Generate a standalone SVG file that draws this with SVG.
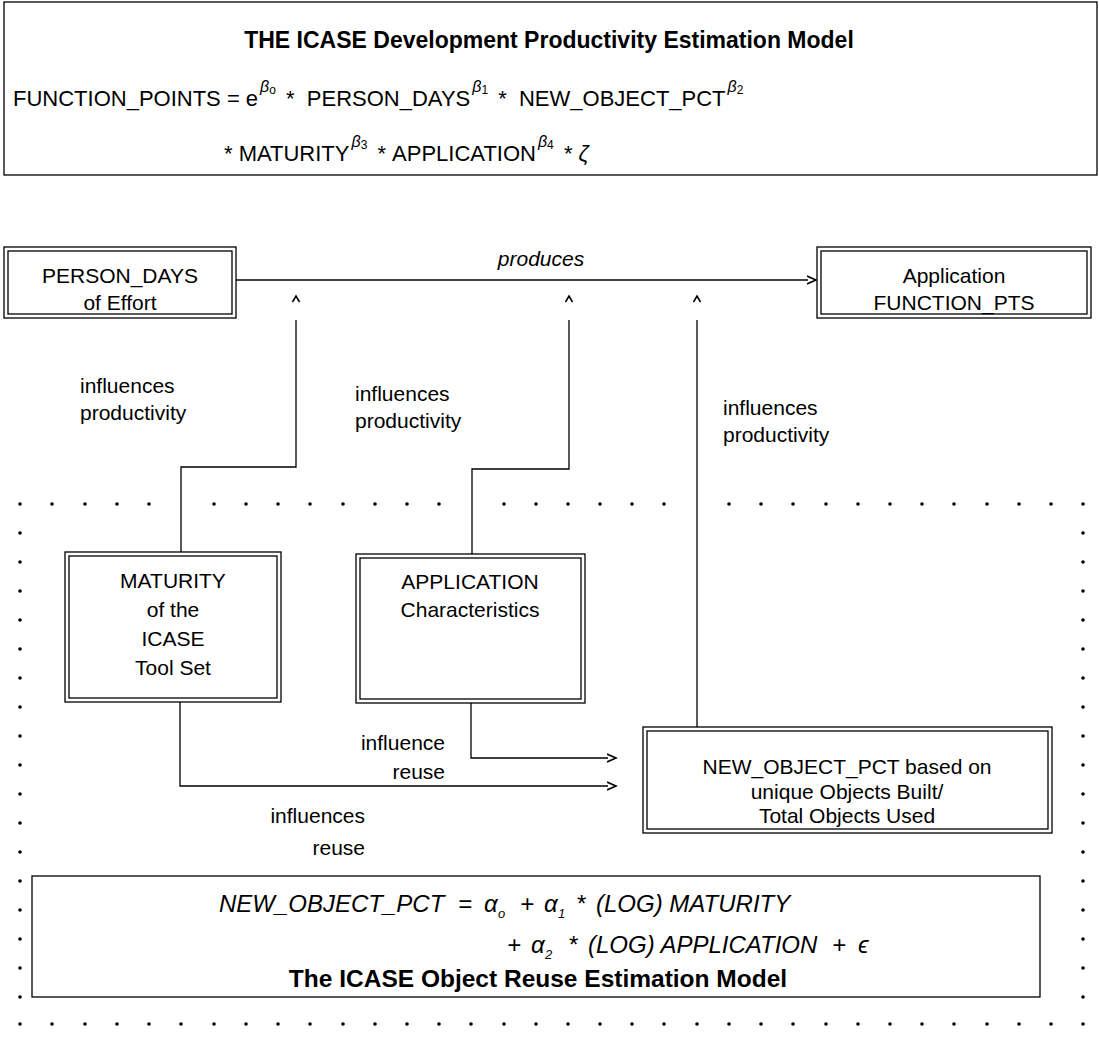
<svg xmlns="http://www.w3.org/2000/svg" width="1099" height="1047" viewBox="0 0 1099 1047">
<style>
text{font-family:"Liberation Sans",Arial,sans-serif;fill:#000;font-size:21px}
.b{font-weight:bold;font-size:23px}
.bb{font-weight:bold;font-size:24.5px}
.i{font-style:italic}
.c{text-anchor:middle}
.e{text-anchor:end}
.f{font-size:22px;white-space:pre}
.g{font-size:24px;font-style:italic}
.beta{font-size:16px;font-style:italic}
.sub{font-size:12px;font-style:normal}
.gs{font-size:13px;font-style:italic}
.box{fill:#fff;stroke:#000;stroke-width:1.3}
.ln{fill:none;stroke:#000;stroke-width:1.3}
.dot{fill:#000}
</style>
<defs>
<marker id="chev" markerUnits="userSpaceOnUse" markerWidth="14" markerHeight="14" refX="1" refY="5" orient="auto" viewBox="0 0 14 10">
<path d="M0,1 L9,5 L0,9" fill="none" stroke="#000" stroke-width="1.6"/>
</marker>
<marker id="caret" markerUnits="userSpaceOnUse" markerWidth="40" markerHeight="14" refX="-18" refY="5" orient="auto" viewBox="-20 0 40 10">
<path d="M0,1.5 L6,5 L0,8.5" fill="none" stroke="#000" stroke-width="1.6"/>
</marker>
<circle id="d" r="1.8" class="dot"/>
</defs>

<g id="header">
<rect class="box" x="4" y="2" width="1093" height="173"/>
<text class="b c" x="549" y="48">THE ICASE Development Productivity Estimation Model</text>
<text class="f" x="13" y="106">FUNCTION_POINTS = e<tspan class="beta" dx="2" dy="-14">β</tspan><tspan class="sub" dy="2">o</tspan><tspan dy="12" dx="4"> *  PERSON_DAYS</tspan><tspan class="beta" dx="2" dy="-14">β</tspan><tspan class="sub" dy="2">1</tspan><tspan dy="12" dx="4"> *  NEW_OBJECT_PCT</tspan><tspan class="beta" dx="2" dy="-14">β</tspan><tspan class="sub" dy="2">2</tspan></text>
<text class="f" x="224" y="161">* MATURITY<tspan class="beta" dx="2" dy="-14">β</tspan><tspan class="sub" dy="2">3</tspan><tspan dy="12" dx="4"> * APPLICATION</tspan><tspan class="beta" dx="2" dy="-14">β</tspan><tspan class="sub" dy="2">4</tspan><tspan dy="12" dx="4"> * </tspan><tspan class="i">ζ</tspan></text>
</g>

<g id="reuse-boundary">
<g id="dots-top">
<use href="#d" x="20" y="504"/><use href="#d" x="52" y="504"/><use href="#d" x="85" y="504"/><use href="#d" x="117" y="504"/><use href="#d" x="149" y="504"/>
<use href="#d" x="214" y="504"/><use href="#d" x="246" y="504"/><use href="#d" x="278" y="504"/><use href="#d" x="310" y="504"/><use href="#d" x="343" y="504"/><use href="#d" x="375" y="504"/><use href="#d" x="407" y="504"/><use href="#d" x="439" y="504"/>
<use href="#d" x="504" y="504"/><use href="#d" x="536" y="504"/><use href="#d" x="568" y="504"/><use href="#d" x="600" y="504"/><use href="#d" x="632" y="504"/><use href="#d" x="664" y="504"/>
<use href="#d" x="729" y="504"/><use href="#d" x="761" y="504"/><use href="#d" x="793" y="504"/><use href="#d" x="826" y="504"/><use href="#d" x="858" y="504"/><use href="#d" x="890" y="504"/><use href="#d" x="922" y="504"/><use href="#d" x="954" y="504"/><use href="#d" x="987" y="504"/><use href="#d" x="1019" y="504"/><use href="#d" x="1051" y="504"/><use href="#d" x="1083" y="504"/>
</g>
<g id="dots-bottom">
<use href="#d" x="20" y="1024"/><use href="#d" x="52" y="1024"/><use href="#d" x="85" y="1024"/><use href="#d" x="117" y="1024"/><use href="#d" x="149" y="1024"/><use href="#d" x="181" y="1024"/><use href="#d" x="214" y="1024"/><use href="#d" x="246" y="1024"/><use href="#d" x="278" y="1024"/><use href="#d" x="310" y="1024"/><use href="#d" x="343" y="1024"/><use href="#d" x="375" y="1024"/><use href="#d" x="407" y="1024"/><use href="#d" x="439" y="1024"/><use href="#d" x="471" y="1024"/><use href="#d" x="504" y="1024"/><use href="#d" x="536" y="1024"/><use href="#d" x="568" y="1024"/><use href="#d" x="600" y="1024"/><use href="#d" x="632" y="1024"/><use href="#d" x="664" y="1024"/><use href="#d" x="697" y="1024"/><use href="#d" x="729" y="1024"/><use href="#d" x="761" y="1024"/><use href="#d" x="793" y="1024"/><use href="#d" x="826" y="1024"/><use href="#d" x="858" y="1024"/><use href="#d" x="890" y="1024"/><use href="#d" x="922" y="1024"/><use href="#d" x="954" y="1024"/><use href="#d" x="987" y="1024"/><use href="#d" x="1019" y="1024"/><use href="#d" x="1051" y="1024"/><use href="#d" x="1083" y="1024"/>
</g>
<g id="dots-left">
<use href="#d" x="20" y="533"/><use href="#d" x="20" y="562"/><use href="#d" x="20" y="591"/><use href="#d" x="20" y="620"/><use href="#d" x="20" y="649"/><use href="#d" x="20" y="678"/><use href="#d" x="20" y="707"/><use href="#d" x="20" y="736"/><use href="#d" x="20" y="765"/><use href="#d" x="20" y="794"/><use href="#d" x="20" y="823"/><use href="#d" x="20" y="852"/><use href="#d" x="20" y="881"/><use href="#d" x="20" y="910"/><use href="#d" x="20" y="939"/><use href="#d" x="20" y="968"/><use href="#d" x="20" y="997"/>
</g>
<g id="dots-right">
<use href="#d" x="1083" y="533"/><use href="#d" x="1083" y="562"/><use href="#d" x="1083" y="591"/><use href="#d" x="1083" y="620"/><use href="#d" x="1083" y="649"/><use href="#d" x="1083" y="678"/><use href="#d" x="1083" y="707"/><use href="#d" x="1083" y="736"/><use href="#d" x="1083" y="765"/><use href="#d" x="1083" y="794"/><use href="#d" x="1083" y="823"/><use href="#d" x="1083" y="852"/><use href="#d" x="1083" y="881"/><use href="#d" x="1083" y="910"/><use href="#d" x="1083" y="939"/><use href="#d" x="1083" y="968"/><use href="#d" x="1083" y="997"/>
</g>
</g>

<g id="connectors">
<path class="ln" d="M236,280 H808" marker-end="url(#chev)"/>
<path class="ln" d="M181,552 V467 H296 V320" marker-end="url(#caret)"/>
<path class="ln" d="M472,554 V469 H569 V320" marker-end="url(#caret)"/>
<path class="ln" d="M697,727 V320" marker-end="url(#caret)"/>
<path class="ln" d="M471,703 V758 H608" marker-end="url(#chev)"/>
<path class="ln" d="M180,702 V786 H608" marker-end="url(#chev)"/>
<text class="i c" x="541" y="266">produces</text>
<text x="80" y="393">influences</text>
<text x="80" y="420">productivity</text>
<text x="355" y="401">influences</text>
<text x="355" y="428">productivity</text>
<text x="723" y="415">influences</text>
<text x="723" y="442">productivity</text>
<text class="e" x="445" y="750">influence</text>
<text class="e" x="445" y="779">reuse</text>
<text class="e" x="365" y="823">influences</text>
<text class="e" x="365" y="855">reuse</text>
</g>

<g id="person-days">
<rect class="box" x="4" y="247" width="232" height="71"/>
<rect class="ln" x="8" y="251" width="224" height="63"/>
<text class="c" x="120" y="283">PERSON_DAYS</text>
<text class="c" x="120" y="310">of Effort</text>
</g>

<g id="function-pts">
<rect class="box" x="817" y="247" width="274" height="71"/>
<rect class="ln" x="821" y="251" width="266" height="63"/>
<text class="c" x="954" y="283">Application</text>
<text class="c" x="954" y="310">FUNCTION_PTS</text>
</g>

<g id="maturity">
<rect class="box" x="65" y="552" width="216" height="150"/>
<rect class="ln" x="69" y="556" width="208" height="142"/>
<text class="c" x="173" y="588">MATURITY</text>
<text class="c" x="173" y="617">of the</text>
<text class="c" x="173" y="646">ICASE</text>
<text class="c" x="173" y="675">Tool Set</text>
</g>

<g id="application">
<rect class="box" x="356" y="554" width="229" height="149"/>
<rect class="ln" x="360" y="558" width="221" height="141"/>
<text class="c" x="470" y="589">APPLICATION</text>
<text class="c" x="470" y="617">Characteristics</text>
</g>

<g id="new-object-pct">
<rect class="box" x="643" y="727" width="409" height="106"/>
<rect class="ln" x="647" y="731" width="401" height="98"/>
<text class="c" x="847" y="774">NEW_OBJECT_PCT based on</text>
<text class="c" x="847" y="799">unique Objects Built/</text>
<text class="c" x="847" y="823">Total Objects Used</text>
</g>

<g id="reuse-model">
<rect class="box" x="32" y="876" width="1008" height="121"/>
<text class="g" x="219" y="912">NEW_OBJECT_PCT</text>
<text class="g" x="458" y="912">=</text>
<text class="g" x="484" y="912">α</text><text class="gs" x="498" y="918">o</text>
<text class="g" x="520" y="912">+</text>
<text class="g" x="544" y="912">α</text><text class="gs" x="558" y="918">1</text>
<text class="g" x="576" y="912">*</text>
<text class="g" x="596" y="912">(LOG) MATURITY</text>
<text class="g" x="507" y="953">+</text>
<text class="g" x="531" y="953">α</text><text class="gs" x="545" y="959">2</text>
<text class="g" x="568" y="953">*</text>
<text class="g" x="588" y="953">(LOG) APPLICATION</text>
<text class="g" x="832" y="953">+</text>
<text class="g" x="858" y="953">ϵ</text>
<text class="bb c" x="538" y="987">The ICASE Object Reuse Estimation Model</text>
</g>
</svg>
